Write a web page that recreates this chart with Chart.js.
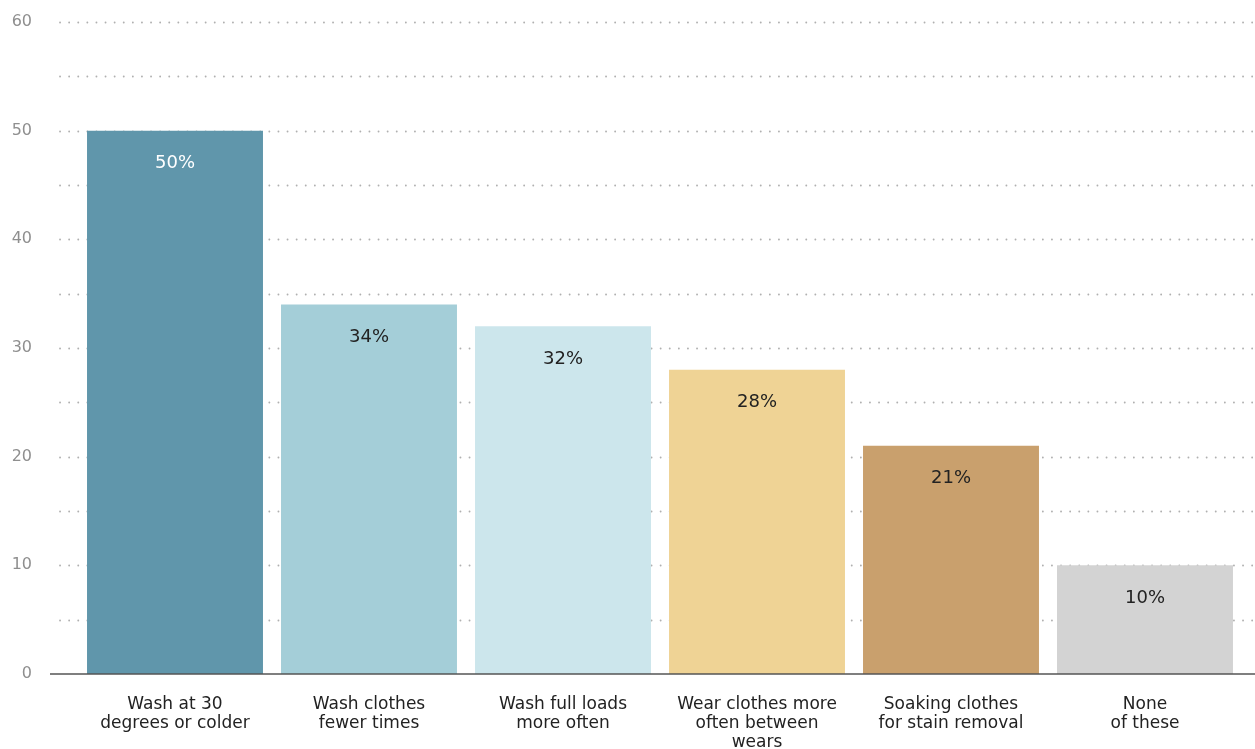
<!DOCTYPE html>
<html>
<head>
<meta charset="utf-8">
<script src="https://cdn.jsdelivr.net/npm/chart.js@4"></script>
<style>
  html, body { margin: 0; padding: 0; background: #fff; }
  #wrap { width: 1255px; height: 749px; position: relative; }
</style>
</head>
<body>
<div id="wrap"><canvas id="c" width="1255" height="749"></canvas></div>
<script>
const categories = [
  ["Wash at 30", "degrees or colder"],
  ["Wash clothes", "fewer times"],
  ["Wash full loads", "more often"],
  ["Wear clothes more", "often between", "wears"],
  ["Soaking clothes", "for stain removal"],
  ["None", "of these"]
];
const values = [50, 34, 32, 28, 21, 10];
const barColors = ["#6096ab", "#a4ced8", "#cce6ec", "#efd395", "#c9a06d", "#d3d3d3"];
const labelColors = ["#ffffff", "#222222", "#222222", "#222222", "#222222", "#222222"];
const yTickLabels = [0, 10, 20, 30, 40, 50, 60];

const FONT = "'DejaVu Sans', sans-serif";

const gridPlugin = {
  id: 'customGrid',
  beforeDatasetsDraw(chart) {
    const ctx = chart.ctx;
    const y = chart.scales.y;
    ctx.save();
    ctx.strokeStyle = '#b0b0b0';
    ctx.lineWidth = 1.8;
    ctx.lineCap = 'round';
    ctx.setLineDash([0.1, 9]);
    y.ticks.forEach(t => {
      if (t.value === 0) return;
      const py = Math.round(y.getPixelForValue(t.value)) + 0.5;
      ctx.beginPath();
      ctx.moveTo(60, py);
      ctx.lineTo(chart.width, py);
      ctx.stroke();
    });
    ctx.restore();
  },
  afterDatasetsDraw(chart) {
    const ctx = chart.ctx;
    const y = chart.scales.y;
    const py = y.getPixelForValue(0);
    ctx.save();
    ctx.strokeStyle = '#555555';
    ctx.lineWidth = 1.6;
    ctx.beginPath();
    ctx.moveTo(50, py);
    ctx.lineTo(chart.width, py);
    ctx.stroke();
    const meta = chart.getDatasetMeta(0);
    ctx.font = "18px " + FONT;
    ctx.textAlign = 'center';
    ctx.textBaseline = 'middle';
    meta.data.forEach((bar, i) => {
      ctx.fillStyle = labelColors[i];
      ctx.fillText(values[i] + '%', bar.x, bar.y + 33);
    });
    ctx.restore();
  }
};

new Chart(document.getElementById('c'), {
  type: 'bar',
  data: {
    labels: categories,
    datasets: [{
      data: values,
      backgroundColor: barColors,
      borderWidth: 0,
      barPercentage: 0.907,
      categoryPercentage: 1.0
    }]
  },
  options: {
    responsive: false,
    animation: false,
    layout: { padding: { top: 22, right: 13, left: 0, bottom: 0 } },
    plugins: { legend: { display: false }, tooltip: { enabled: false } },
    scales: {
      x: {
        grid: { display: false, drawTicks: false },
        border: { display: false },
        afterFit(scale) { scale.height = 75; scale.paddingLeft = 0; scale.paddingRight = 0; },
        ticks: {
          color: '#222',
          font: { family: FONT, size: 17, lineHeight: 1.12 },
          padding: 21,
          maxRotation: 0,
          autoSkip: false
        }
      },
      y: {
        min: 0,
        max: 60,
        grid: { display: false, drawTicks: false },
        border: { display: false },
        afterFit(scale) { scale.width = 78; scale.paddingTop = 0; scale.paddingBottom = 0; },
        ticks: {
          stepSize: 5,
          color: '#8f8f8f',
          font: { family: FONT, size: 16 },
          padding: 46,
          callback(v) { return yTickLabels.includes(v) ? String(v) : ''; }
        }
      }
    }
  },
  plugins: [gridPlugin]
});
</script>
</body>
</html>
